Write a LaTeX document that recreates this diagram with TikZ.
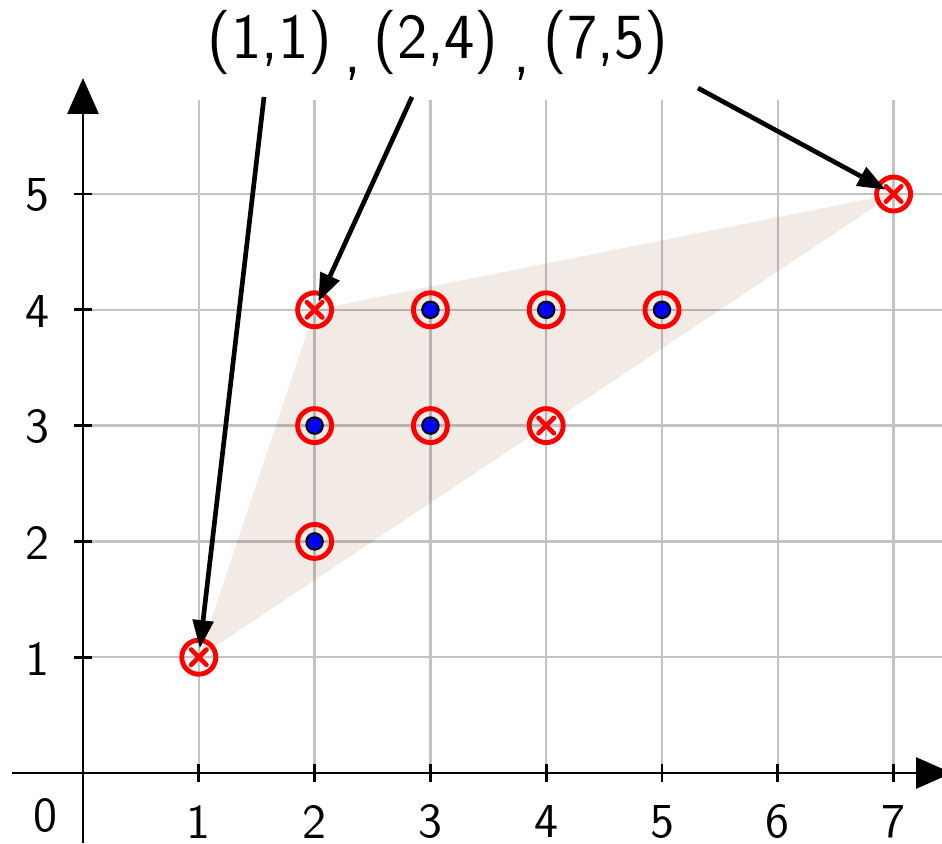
\documentclass[tikz,border=0pt]{standalone}
\usepackage{fontspec}
\usetikzlibrary{arrows.meta}
\definecolor{gridgray}{RGB}{195,195,195}
\definecolor{hullfill}{RGB}{242,234,229}
\begin{document}
\begin{tikzpicture}[x=1cm,y=1cm,
  gridline/.style={draw=gridgray, line width=0.6pt},
  axisline/.style={line width=0.65pt, -{Triangle[length=8.8pt,width=7.6pt]}},
  tickmark/.style={line width=0.65pt},
  ticklabel/.style={font=\fontsize{12}{14}\selectfont\sffamily, inner sep=0pt},
  bigtext/.style={font=\fontsize{15.8}{18}\selectfont\sffamily, inner sep=0pt, anchor=base},
  callout/.style={line width=1.15pt, -{Triangle[length=6.9pt,width=5pt]}},
  ring/.style={draw=red, line width=1.2pt},
  bluedot/.style={fill=blue, draw=black, line width=0.5pt},
  crossmark/.style={draw=red, line width=1.15pt, line cap=round},
  target/.style={circle, minimum size=4pt, inner sep=0pt}
]
\useasboundingbox (-0.7168,-0.6045) rectangle (7.418,6.6753);

% grid
\foreach \x in {1,...,7} \draw[gridline] (\x,0) -- (\x,5.81);
\foreach \y in {1,...,5} \draw[gridline] (0,\y) -- (7.418,\y);

% named points
\node[target] (p11) at (1,1) {};
\node[target] (p24) at (2,4) {};
\node[target] (p75) at (7,5) {};

% hull
\begin{scope}[blend mode=multiply]
\fill[hullfill] (p11.center) -- (p24.center) -- (p75.center) -- cycle;
\end{scope}

% axes
\draw[axisline] (-0.613,0) -- (7.504,0);
\draw[axisline] (0,-0.6045) -- (0,6.002);

% ticks
\foreach \x in {1,...,7} \draw[tickmark] (\x,-0.075) -- (\x,0.075);
\foreach \y in {1,...,5} \draw[tickmark] (-0.075,\y) -- (0.075,\y);

% tick labels
\foreach \x in {1,...,7} \node[ticklabel] (xl\x) at (\x,-0.419) {\x};
\foreach \y in {1,...,5} \node[ticklabel] (yl\y) at (-0.389,\y-0.012) {\y};
\node[ticklabel] (zero) at (-0.328,-0.363) {0};

% markers: rings
\foreach \p in {(1,1),(2,4),(7,5),(4,3),(2,2),(2,3),(3,3),(3,4),(4,4),(5,4)}
  \draw[ring] \p circle (0.1468);
% crosses
\foreach \p in {(1,1),(2,4),(7,5),(4,3)}
  \draw[crossmark] \p ++(-0.066,-0.066) -- ++(0.132,0.132) \p ++(-0.066,0.066) -- ++(0.132,-0.132);
% blue dots
\foreach \p in {(2,2),(2,3),(3,3),(3,4),(4,4),(5,4)}
  \draw[bluedot] \p circle (0.071);

% top labels
\node[bigtext] (t1) at (1.615,6.174) {(1,1)};
\node[bigtext] (c1) at (2.332,6.045) {,};
\node[bigtext] (t2) at (3.048,6.174) {(2,4)};
\node[bigtext] (c2) at (3.791,6.045) {,};
\node[bigtext] (t3) at (4.516,6.174) {(7,5)};

% callouts
\coordinate (s1) at (1.563,5.838);
\coordinate (s2) at (2.841,5.838);
\coordinate (s3) at (5.311,5.915);
\draw[callout] (s1) -- (p11);
\draw[callout] (s2) -- (p24);
\draw[callout] (s3) -- (p75);
\end{tikzpicture}
\end{document}
